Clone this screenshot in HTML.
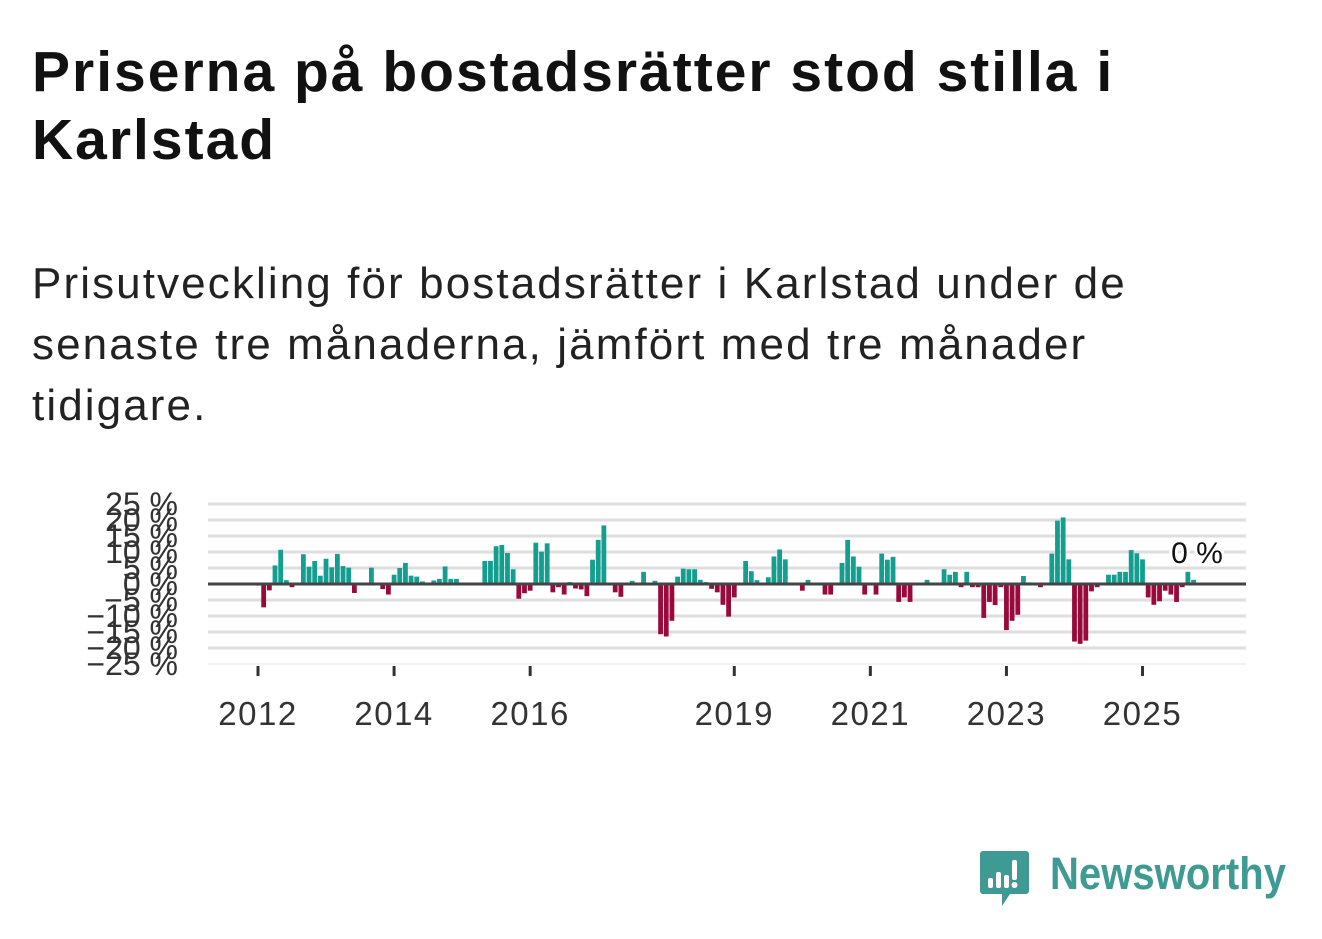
<!DOCTYPE html>
<html><head><meta charset="utf-8"><style>
body{margin:0;background:#fff;width:1322px;height:939px;overflow:hidden;font-family:"Liberation Sans","DejaVu Sans",sans-serif;}
#t{position:absolute;left:32px;top:38px;font-size:57px;font-weight:bold;line-height:68px;color:#111;margin:0;width:1290px;white-space:nowrap;letter-spacing:2px}
#s{position:absolute;left:32px;top:253px;font-size:44px;line-height:61px;color:#222;margin:0;width:1290px;white-space:nowrap;letter-spacing:2.1px}
svg{position:absolute;left:0;top:0}
</style></head><body>
<h1 id="t">Priserna på bostadsrätter stod stilla i<br>Karlstad</h1>
<p id="s">Prisutveckling för bostadsrätter i Karlstad under de<br>senaste tre månaderna, jämfört med tre månader<br>tidigare.</p>
<svg id="chart" width="1322" height="939"></svg>
<script>
const startYear = 2012;
const values = [-0.5,-7.3,-2,5.8,10.7,1.2,-1,0,9.3,5.4,7.2,2.6,7.9,5.2,9.4,5.6,5.1,-2.8,0,0,5.1,0,-1.6,-3.3,2.9,5,6.6,2.6,2.3,0.8,0,1.1,1.6,5.5,1.6,1.6,0,0,0.3,0,7.2,
7.2,11.8,12.2,9.7,4.6,-4.6,-2.9,-2.1,12.9,10.1,12.7,-2.6,-1,-3.3,0.6,-1.4,-1.7,-3.8,7.6,13.8,18.3,0,-2.6,-4,0,1,0,3.8,0,1,-15.7,-16.4,-11.5,2.3,4.8,4.6,4.6,1.3,0.6,-1.5,-2.6,-6.5,
-10.2,-4.2,0,7.2,4,1.2,0,2.1,8.6,10.8,7.7,0.3,0.3,-2.1,1.3,0,0.3,-3.3,-3.3,0,6.6,13.8,8.6,5.4,-3.3,0,-3.3,9.5,7.6,8.5,-5.6,-4.2,-5.6,0.3,0.3,1.3,0,0.3,4.6,2.9,3.8,
-1,3.8,-1,-1,-10.6,-5.6,-6.6,-1,-14.4,-11.5,-9.6,2.5,0.5,0,-1,0,9.5,19.8,20.8,7.7,-18,-18.7,-17.7,-2.3,-1,0,2.9,2.9,3.8,3.8,10.6,9.6,7.7,-4.2,-6.5,-5.4,-2.1,-3.3,-5.6,-1,3.8,1.3];
const yTicks = [25,20,15,10,5,0,-5,-10,-15,-20,-25];
const xTickYears = [2012,2014,2016,2019,2021,2023,2025];
const lastLabel = "0 %";

const svg = document.getElementById('chart');
const NS = 'http://www.w3.org/2000/svg';
const x = i => 258 + 5.67 * i;
const y = v => 584 - 3.2 * v;
function mk(tag, attrs){const e=document.createElementNS(NS,tag);for(const k in attrs)e.setAttribute(k,attrs[k]);svg.appendChild(e);return e;}

yTicks.forEach(t=>{
  const g = mk('line',{x1:208,x2:1246,y1:y(t),y2:y(t),stroke:t===-25?'#e6e6e6':'#dedede','stroke-width':t===-25?1:3});
  
  
  const l = mk('text',{x:178,y:y(t)+11,'text-anchor':'end','font-size':32,fill:'#333','font-family':'Liberation Sans, DejaVu Sans, sans-serif'});
  l.textContent = (t<0?'\u2212'+(-t):t)+' %';
  
  
});
values.forEach((v,i)=>{
  if(v===0) return;
  const b = mk('rect',{x:x(i)-2.4,width:4.8,y:Math.min(y(v),y(0)),height:Math.abs(y(v)-y(0)),fill:v>0?'#139e8f':'#990a3c'});
  
  
});
const z = mk('line',{x1:208,x2:1246,y1:y(0),y2:y(0),stroke:'#444','stroke-width':3});


xTickYears.forEach(yr=>{
  const xi = x((yr-startYear)*12);
  const tk = mk('line',{x1:xi,x2:xi,y1:666,y2:676,stroke:'#333','stroke-width':3});
  
  
  const l = mk('text',{x:xi,y:725,'text-anchor':'middle','font-size':33,'letter-spacing':1.5,fill:'#333','font-family':'Liberation Sans, DejaVu Sans, sans-serif'});
  l.textContent = yr;
  
  
});
const lv = mk('text',{x:1197,y:563,'text-anchor':'middle','font-size':30,fill:'#111',stroke:'#fff','stroke-width':6,'paint-order':'stroke','font-family':'Liberation Sans, DejaVu Sans, sans-serif'});
lv.textContent = lastLabel;


</script>
<svg width="330" height="80" style="left:978px;top:848px">
<path d="M5 3 h43 a3 3 0 0 1 3 3 v37 a3 3 0 0 1 -3 3 h-16 l-8 12 v-12 h-19 a3 3 0 0 1 -3 -3 v-37 a3 3 0 0 1 3 -3z" fill="#3f9a93"/>
<rect x="10" y="30" width="5" height="10" rx="2" fill="#fff"/><rect x="18" y="24" width="5" height="16" rx="2" fill="#fff"/><rect x="26" y="27" width="5" height="13" rx="2" fill="#fff"/><rect x="34" y="12" width="5" height="20" rx="2" fill="#fff"/><circle cx="36.5" cy="37" r="3" fill="#fff"/>
<text x="72" y="41" font-size="45" font-weight="bold" fill="#3f9a93" textLength="236" lengthAdjust="spacingAndGlyphs" font-family="Liberation Sans, sans-serif">Newsworthy</text>
</svg>
</body></html>
